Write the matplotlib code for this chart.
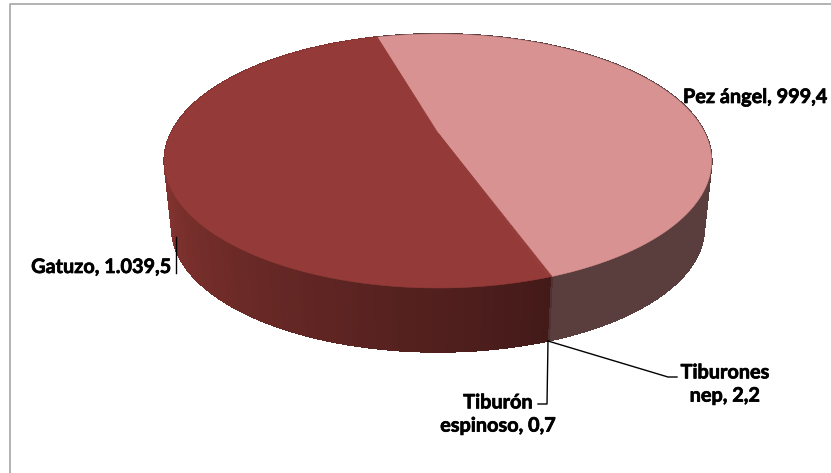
import numpy as np
import matplotlib
matplotlib.use("Agg")
import matplotlib.pyplot as plt
import matplotlib.patheffects as pe

names = ['Pez ángel', 'Tiburones nep', 'Tiburón espinoso', 'Gatuzo']
values = [999.4, 2.2, 0.7, 1039.5]
top_colors = ['#d89291', '#943b39', '#943b39', '#943b39']
wall_dark = ['#5a3d3d', '#503232', '#431a19', '#431a19']
wall_light = ['#5a3d3d', '#503232', '#431a19', '#82332f']

start_angle = -16  # clockwise from the far side of the disc
cx, cy = 438.0, 133.0
rx, ry = 266.8, 120.8
persp = 0.2205
depth_y, depth_scale = 201.0, 0.9726


def project(theta, center_y=cy, scale=1.0):
    # theta in degrees, clockwise from the far side
    u = np.sin(np.radians(theta))
    v = -np.cos(np.radians(theta))
    w = 1 - persp * v
    return cx + scale * rx * u / w, center_y + scale * ry * v / w


fig = plt.figure(figsize=(8.31, 4.73), dpi=100)
ax = fig.add_axes([0, 0, 1, 1])
ax.set_xlim(0, 831)
ax.set_ylim(473, 0)
ax.axis('off')

# chart border, only the left and top sides are inside the picture
ax.plot([9.5, 9.5, 831], [473, 4.5, 4.5], color='#a6a6a6', lw=1.2)

sweeps = np.array(values) / sum(values) * 360
edges = start_angle + np.concatenate([[0], np.cumsum(sweeps)])

# side wall, back to front
quads = []
for i in range(len(values)):
    steps = np.arange(edges[i], edges[i + 1], 1.0)
    steps = np.append(steps, edges[i + 1])
    for a, b in zip(steps[:-1], steps[1:]):
        quads.append((-np.cos(np.radians((a + b) / 2)), i, a, b))
quads.sort()
for v, i, a, b in quads:
    t = np.clip(((a + b) / 2 - 160) / 90, 0, 1)
    dark = np.array(matplotlib.colors.to_rgb(wall_dark[i]))
    light = np.array(matplotlib.colors.to_rgb(wall_light[i]))
    col = dark + (light - dark) * t
    x1, y1 = project(a)
    x2, y2 = project(b)
    x3, y3 = project(b, depth_y, depth_scale)
    x4, y4 = project(a, depth_y, depth_scale)
    ax.fill([x1, x2, x3, x4], [y1, y2, y3, y4], color=col, lw=0.8, antialiased=False)

# top face
for i in range(len(values)):
    arc = np.linspace(edges[i], edges[i + 1], 200)
    x, y = project(arc)
    ax.fill(np.r_[cx, x], np.r_[cy, y], color=top_colors[i], lw=0.4)

# leader lines
ax.plot([175.5, 175.5], [237, 273], color='black', lw=1)
ax.plot([548, 547, 538], [341, 404, 404], color='black', lw=1)
ax.plot([548, 668, 677], [341, 377, 377], color='black', lw=1)

font = dict(family='Lato', fontweight='bold', fontsize=14.3, color='black',
            path_effects=[pe.withStroke(linewidth=0.5, foreground='black')])
ax.text(683, 97, 'Pez ángel, 999,4', ha='left', va='center', **font)
ax.text(172, 267, 'Gatuzo, 1.039,5', ha='right', va='center', **font)
ax.text(725, 384, 'Tiburones\nnep, 2,2', ha='center', va='center', linespacing=1.2, **font)
ax.text(498, 414, 'Tiburón\nespinoso, 0,7', ha='center', va='center', linespacing=1.2, **font)

fig.savefig('out.png', dpi=100)
